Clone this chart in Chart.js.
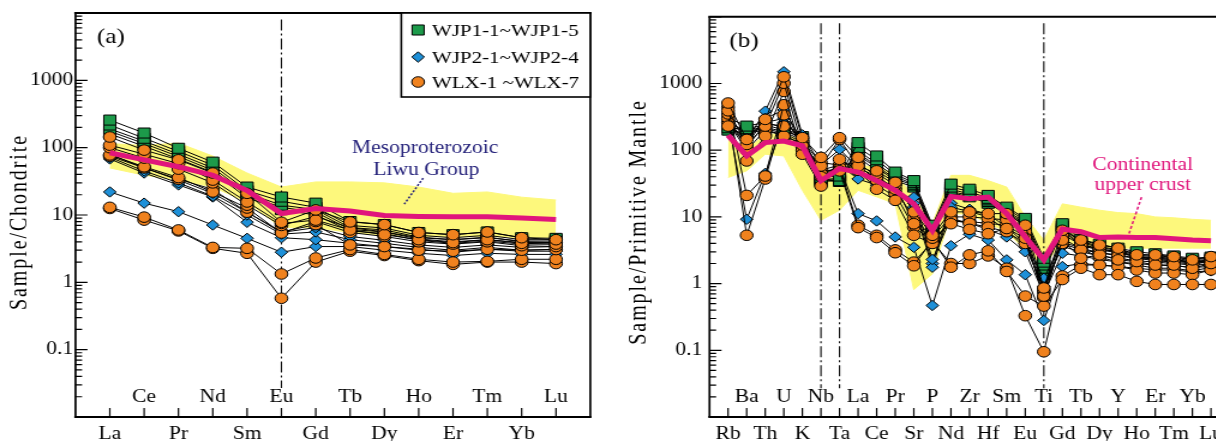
<!DOCTYPE html>
<html lang="en">
<head>
<meta charset="UTF-8">
<title>REE and trace element patterns</title>
<script src="https://cdn.jsdelivr.net/npm/chart.js"></script>
<style>
    html, body {
        margin: 0;
        padding: 0;
        background: #fff;
        width: 1216px;
        height: 441px;
        overflow: hidden;
    }
    .panel {
        position: absolute;
        top: 0;
        height: 441px;
        transform: scaleX(1.2);
        transform-origin: 0 0;
    }
    #panelA { left: 0; width: 500px; }
    #panelB { left: 600px; width: 540px; }
</style>
</head>
<body>
<div class="panel" id="panelA"><canvas id="reeChart" width="500" height="441"></canvas></div>
<div class="panel" id="panelB"><canvas id="spiderChart" width="540" height="441"></canvas></div>

<script>
// ---- element order on the x axes ----
const reeNames = ['La', 'Ce', 'Pr', 'Nd', 'Sm', 'Eu', 'Gd', 'Tb', 'Dy', 'Ho', 'Er', 'Tm', 'Yb', 'Lu'];
const pmNames = ['Rb', 'Ba', 'Th', 'U', 'K', 'Nb', 'Ta', 'La', 'Ce', 'Pr', 'Sr', 'P', 'Nd', 'Zr', 'Hf',
                 'Sm', 'Eu', 'Ti', 'Gd', 'Tb', 'Dy', 'Y', 'Ho', 'Er', 'Tm', 'Yb', 'Lu'];
const reeDividers = ['Eu'];
const pmDividers = ['Nb', 'Ta', 'Ti'];
const yTickValues = [0.1, 1, 10, 100, 1000];
const legendLabels = ['WJP1-1~WJP1-5', 'WJP2-1~WJP2-4', 'WLX-1 ~WLX-7'];

// ---- chondrite-normalised REE ----
const wjp1Ree = [
    [257, 165, 98, 61, 26, 18.5, 15, 8.0, 7.2, 5.5, 5.1, 5.6, 4.6, 4.5],
    [217, 138, 88, 55, 23, 16, 13, 7.0, 6.4, 5.0, 4.6, 5.0, 4.3, 4.3],
    [190, 125, 80, 50, 21, 14, 12, 6.5, 6.0, 4.7, 4.3, 4.6, 4.1, 4.1],
    [175, 115, 74, 46, 19.5, 13, 11, 6.1, 5.6, 4.4, 4.0, 4.3, 3.9, 3.9],
    [160, 105, 68, 43, 18, 12, 10, 5.8, 5.3, 4.2, 3.8, 4.1, 3.7, 3.7]
];
const wjp2Ree = [
    [80, 50, 33, 21, 11, 5.5, 6.5, 4.8, 4.2, 3.6, 3.3, 3.6, 3.3, 3.4],
    [72, 45, 30, 19, 10, 5.2, 5.6, 4.3, 3.8, 3.3, 3.0, 3.3, 3.0, 3.1],
    [68, 42, 28, 18.5, 7.8, 4.6, 4.3, 3.8, 3.4, 3.1, 2.8, 3.1, 2.9, 2.9],
    [22, 15, 11.2, 7.1, 4.5, 2.8, 3.4, 3.4, 3.0, 2.7, 2.5, 2.7, 2.6, 2.6]
];
const wlxRee = [
    [144, 92, 66, 42, 21, 7.8, 11.9, 7.9, 7.2, 5.5, 5.1, 5.6, 4.6, 4.3],
    [109, 80, 58, 33, 15.6, 7.5, 8.4, 6.0, 5.1, 4.3, 3.9, 4.3, 3.8, 3.7],
    [100, 70, 48, 30, 14, 7.0, 9.5, 6.5, 5.6, 4.6, 4.3, 4.7, 4.0, 3.9],
    [78, 52, 36, 22, 12.7, 5.4, 8.0, 5.5, 4.8, 4.0, 3.7, 4.0, 3.5, 3.4],
    [75, 50, 34, 24, 11, 5.6, 7.2, 3.6, 3.4, 3.0, 2.9, 3.1, 3.0, 3.07],
    [13, 9.3, 6.0, 3.3, 3.2, 1.33, 2.3, 3.07, 2.6, 2.2, 2.0, 2.05, 2.2, 2.2],
    [12.5, 8.4, 5.8, 3.2, 2.7, 0.58, 2.0, 2.9, 2.5, 2.1, 1.85, 2.0, 2.0, 1.9]
];
const liwuUpper = [115, 108, 117, 75, 42, 26, 31, 31, 30, 26, 21, 22, 18.4, 16.7];
const liwuLower = [50, 39, 33, 26, 15.6, 6.5, 6.5, 5.5, 5.0, 4.8, 4.7, 4.8, 4.6, 4.6];
const liwuMean = [84, 66, 52, 39, 23, 10.5, 12.5, 11.5, 9.8, 9.5, 9.4, 9.4, 9.0, 8.6];

// ---- primitive-mantle-normalised trace elements ----
const wjp1Pm = [
    [305, 230, 260, 217, 160, 39, 41, 130, 82, 47, 35, 7.5, 31, 26, 21, 14, 9.5, 2.4, 7.9, 4.6, 3.9, 3.4, 3.0, 2.8, 2.6, 2.4, 2.5],
    [217, 210, 240, 200, 150, 37, 35, 110, 72, 43, 33, 7.0, 28, 24, 19, 13, 9.0, 2.1, 7.3, 4.3, 3.6, 3.2, 2.8, 2.6, 2.5, 2.3, 2.4],
    [250, 200, 220, 190, 140, 36, 38, 98, 63, 40, 31, 6.5, 26, 22, 18, 12, 8.5, 1.9, 6.9, 4.1, 3.5, 3.1, 2.7, 2.5, 2.4, 2.2, 2.3],
    [230, 190, 210, 180, 130, 35, 34, 90, 58, 37, 30, 6.2, 24, 21, 17, 11.5, 8.0, 1.7, 6.5, 3.9, 3.3, 3.0, 2.6, 2.4, 2.3, 2.1, 2.2],
    [200, 180, 200, 170, 120, 34, 36, 84, 55, 35, 28, 5.8, 23, 20, 16, 11, 7.5, 1.52, 6.2, 3.7, 3.2, 2.9, 2.5, 2.3, 2.2, 2.0, 2.1]
];
const wjp2Pm = [
    [280, 9.2, 45, 260, 150, 45, 55, 11.2, 8.7, 5.0, 3.5, 0.47, 3.7, 5.5, 4.5, 2.27, 1.36, 0.28, 1.8, 2.0, 1.9, 1.8, 1.7, 1.6, 1.6, 1.5, 1.55],
    [250, 120, 300, 400, 140, 50, 60, 37, 30, 20, 19.7, 2.3, 9.5, 8, 6.5, 5.0, 3.0, 0.7, 2.85, 2.6, 2.3, 2.1, 2.0, 1.9, 1.85, 1.75, 1.8],
    [230, 150, 260, 300, 130, 45, 50, 45, 35, 24, 14, 1.76, 14, 12, 10, 6.2, 3.5, 0.9, 3.6, 3.0, 2.6, 2.4, 2.2, 2.1, 2.0, 1.9, 1.95],
    [260, 140, 385, 1500, 170, 60, 103, 55, 40, 27, 16, 2.0, 16, 13, 11, 7.0, 4.0, 1.2, 4.2, 3.4, 2.9, 2.7, 2.4, 2.3, 2.2, 2.1, 2.2]
];
const wlxPm = [
    [510, 145, 290, 1260, 154, 78, 154, 78, 49, 33, 11.9, 5.3, 11.9, 11.9, 11.2, 11.2, 7.5, 0.86, 6.3, 4.5, 3.8, 3.4, 2.7, 2.7, 2.54, 2.27, 2.54],
    [390, 122, 230, 1010, 120, 58, 145, 58, 45, 30, 7.9, 4.8, 7.9, 6.5, 5.6, 6.7, 4.8, 0.65, 4.5, 2.4, 2.7, 2.27, 2.14, 1.9, 1.9, 1.7, 2.0],
    [230, 69, 163, 760, 87, 29, 73, 50, 26, 17.7, 5.3, 4.0, 9.0, 8.0, 7.0, 6.0, 4.0, 0.81, 4.0, 3.2, 2.9, 2.6, 2.4, 2.2, 2.1, 1.95, 2.2],
    [440, 21, 41, 480, 100, 40, 49, 6.9, 4.9, 2.9, 1.85, 4.5, 1.76, 2.7, 3.1, 1.52, 0.65, 0.46, 1.15, 1.7, 1.36, 1.36, 1.08, 0.97, 0.97, 0.97, 0.97],
    [350, 5.3, 37, 340, 110, 45, 55, 7.5, 5.3, 3.2, 2.1, 4.2, 2.0, 2.0, 2.6, 1.7, 0.33, 0.095, 1.3, 1.9, 1.9, 1.8, 1.6, 1.44, 1.44, 1.36, 1.6],
    [300, 110, 250, 230, 135, 65, 60, 65, 40, 26, 9.5, 5.0, 10, 10, 9.5, 9.0, 6.0, 0.75, 5.5, 3.8, 3.3, 3.0, 2.5, 2.4, 2.3, 2.1, 2.3],
    [260, 100, 200, 163, 125, 50, 50, 60, 35, 22, 7.0, 4.4, 8.5, 8.5, 8.0, 7.5, 5.0, 0.61, 4.8, 3.3, 2.5, 2.1, 1.9, 1.7, 1.7, 1.55, 1.75]
];
const uccUpper = [175, 100, 175, 175, 140, 40, 60, 60, 55, 45, 20, 8, 42, 42, 35, 28, 10, 4.5, 15.7, 14, 12.6, 11.6, 11.2, 10, 9.7, 9.2, 8.9];
const uccLower = [39, 49, 87, 82, 25, 8.9, 12.6, 25, 20, 15.7, 0.81, 1.4, 11.2, 11, 8, 6, 3.2, 1.8, 4.3, 3.6, 3.4, 3.4, 3.4, 3.4, 3.4, 3.4, 3.4];
const uccMean = [168, 82, 130, 137, 116, 35, 53, 47, 35, 25, 15.7, 6.3, 20.3, 18.7, 19.8, 11.2, 5.0, 2.27, 6.6, 6.0, 4.9, 5.0, 4.9, 4.9, 4.7, 4.5, 4.4];

// ---- styles ----
const SERIF = "'Liberation Serif', 'Times New Roman', serif";
const YELLOW = '#fdf87c';
const MAGENTA = '#e0157c';
const NAVY = '#24217a';
const looks = [
    { shape: 'rect', radius: 7.1, color: '#1c9a4a' },
    { shape: 'rectRot', radius: 5.2, color: '#1e90d8' },
    { shape: 'circle', radius: 5.3, color: '#f0821e' }
];

Chart.defaults.font.family = SERIF;
Chart.defaults.font.size = 18;
Chart.defaults.color = '#000';

function points(vals) {
    return vals.map((v, i) => ({ x: i, y: v }));
}

function sampleSets(rows, look, order) {
    return rows.map(vals => ({
        data: points(vals),
        borderColor: '#000',
        borderWidth: 1,
        pointStyle: look.shape,
        pointRadius: look.radius,
        pointBackgroundColor: look.color,
        pointBorderColor: '#000',
        pointBorderWidth: 1,
        order: order
    }));
}

// lower edge first, upper edge filled down to it
function rangeSets(lower, upper) {
    return [
        { data: points(lower), borderColor: YELLOW, borderWidth: 1, pointRadius: 0, fill: false, order: 10 },
        { data: points(upper), borderColor: YELLOW, borderWidth: 1, pointRadius: 0, fill: '-1',
          backgroundColor: YELLOW, order: 10 }
    ];
}

function dividerSets(names, marks) {
    return marks.map(m => {
        const i = names.indexOf(m);
        return {
            data: [{ x: i, y: 8000 }, { x: i, y: 0.027 }],
            borderColor: '#000', borderWidth: 1.1, borderDash: [11, 3, 2, 3],
            pointRadius: 0, order: 4
        };
    });
}

function drawMarker(ctx, look, cx, cy) {
    const r = look.radius;
    ctx.beginPath();
    if (look.shape === 'rect') {
        const s = r * Math.SQRT1_2;
        ctx.rect(cx - s, cy - s, 2 * s, 2 * s);
    } else if (look.shape === 'rectRot') {
        ctx.moveTo(cx, cy - r);
        ctx.lineTo(cx + r, cy);
        ctx.lineTo(cx, cy + r);
        ctx.lineTo(cx - r, cy);
        ctx.closePath();
    } else {
        ctx.arc(cx, cy, r, 0, Math.PI * 2);
    }
    ctx.fillStyle = look.color;
    ctx.fill();
    ctx.lineWidth = 1;
    ctx.strokeStyle = '#000';
    ctx.stroke();
}

// frame, inward ticks, inner element labels, rotated axis title, notes, legend
const decor = {
    id: 'decor',
    afterDatasetsDraw(chart, args, o) {
        const { ctx, chartArea: a, scales: { x, y } } = chart;
        ctx.save();
        ctx.strokeStyle = '#000';

        ctx.lineWidth = 1.2;
        ctx.beginPath();
        for (let e = -2; e <= 4; e++) {
            for (let m = 1; m <= 9; m++) {
                const v = m * Math.pow(10, e);
                if (v < y.min || v > y.max) continue;
                const py = y.getPixelForValue(v);
                ctx.moveTo(a.left, py);
                ctx.lineTo(a.left + (m === 1 ? 10 : 5.5), py);
            }
        }
        o.names.forEach((n, i) => {
            const px = x.getPixelForValue(i);
            ctx.moveTo(px, a.bottom);
            ctx.lineTo(px, a.bottom - 9);
        });
        ctx.stroke();

        ctx.lineWidth = 2;
        ctx.beginPath();
        ctx.moveTo(a.left - 1, a.top);
        ctx.lineTo(a.right + 1, a.top);
        ctx.moveTo(a.left - 1, a.bottom);
        ctx.lineTo(a.right + 1, a.bottom);
        ctx.stroke();
        ctx.lineWidth = 1.7;
        ctx.beginPath();
        ctx.moveTo(a.left, a.top);
        ctx.lineTo(a.left, a.bottom);
        ctx.moveTo(a.right, a.top);
        ctx.lineTo(a.right, a.bottom);
        ctx.stroke();

        ctx.fillStyle = '#000';
        ctx.font = '18px ' + SERIF;
        ctx.textAlign = 'center';
        ctx.textBaseline = 'middle';
        o.names.forEach((n, i) => {
            if (i % 2 === 1) ctx.fillText(n, x.getPixelForValue(i), a.bottom - 20);
        });

        ctx.save();
        ctx.translate(o.titleX, 222);
        ctx.rotate(-Math.PI / 2);
        ctx.font = '20px ' + SERIF;
        ctx.letterSpacing = '1.9px';
        ctx.textBaseline = 'alphabetic';
        ctx.fillText(o.title, 0, 0);
        ctx.letterSpacing = '0px';
        ctx.restore();

        ctx.textBaseline = 'alphabetic';
        o.notes.forEach(t => {
            ctx.font = t.size + 'px ' + SERIF;
            ctx.fillStyle = t.color;
            ctx.fillText(t.text, x.getPixelForValue(t.x), y.getPixelForValue(t.y));
        });
        o.leaders.forEach(l => {
            ctx.strokeStyle = l.color;
            ctx.lineWidth = 1.5;
            ctx.setLineDash(l.dash);
            ctx.beginPath();
            ctx.moveTo(x.getPixelForValue(l.x1), y.getPixelForValue(l.y1));
            ctx.lineTo(x.getPixelForValue(l.x2), y.getPixelForValue(l.y2));
            ctx.stroke();
        });
        ctx.setLineDash([]);

        if (o.legend) {
            const w = 157.5, h = 84;
            const bx = a.right - w, by = a.top;
            ctx.fillStyle = '#fff';
            ctx.fillRect(bx, by, w, h);
            ctx.strokeStyle = '#000';
            ctx.lineWidth = 1.6;
            ctx.strokeRect(bx, by, w, h);
            ctx.textAlign = 'left';
            ctx.textBaseline = 'middle';
            ctx.font = '17.5px ' + SERIF;
            [17, 44, 69].forEach((dy, k) => {
                drawMarker(ctx, looks[k], bx + 14, by + dy);
                ctx.fillStyle = '#000';
                ctx.fillText(legendLabels[k], bx + 25.5, by + dy + 1);
            });
        }
        ctx.restore();
    }
};

function makeChart(id, names, datasets, geo, decorOpts) {
    return new Chart(document.getElementById(id), {
        type: 'line',
        data: { datasets: datasets },
        options: {
            responsive: false,
            animation: false,
            events: [],
            layout: { padding: { top: 13, right: geo.right, left: 0, bottom: 0 } },
            elements: { line: { tension: 0 } },
            scales: {
                x: {
                    type: 'linear',
                    min: -1,
                    max: names.length,
                    afterBuildTicks: s => { s.ticks = names.map((n, i) => ({ value: i })); },
                    ticks: {
                        autoSkip: false,
                        maxRotation: 0,
                        padding: 6,
                        callback: v => (v % 2 === 0 ? names[v] : '')
                    },
                    grid: { display: false, drawTicks: false },
                    border: { display: false },
                    afterFit: s => { s.height = 24; }
                },
                y: {
                    type: 'logarithmic',
                    min: 0.01,
                    max: 10000,
                    afterBuildTicks: s => { s.ticks = yTickValues.map(v => ({ value: v })); },
                    ticks: { autoSkip: false, padding: geo.tickPad, callback: v => String(v) },
                    grid: { display: false, drawTicks: false },
                    border: { display: false },
                    afterFit: s => { s.width = geo.left; }
                }
            },
            plugins: {
                legend: { display: false },
                tooltip: { enabled: false },
                decor: decorOpts
            }
        },
        plugins: [decor]
    });
}

makeChart('reeChart', reeNames, [
    ...rangeSets(liwuLower, liwuUpper),
    ...dividerSets(reeNames, reeDividers),
    ...sampleSets(wjp1Ree, looks[0], 3),
    ...sampleSets(wjp2Ree, looks[1], 2),
    ...sampleSets(wlxRee, looks[2], 1),
    { data: points(liwuMean), borderColor: MAGENTA, borderWidth: 5, pointRadius: 0, order: 0 }
], { left: 62.9, right: 5.8, tickPad: 2 }, {
    names: reeNames,
    title: 'Sample/Chondrite',
    titleX: 22.2,
    legend: true,
    notes: [
        { text: '(a)', x: 0.03, y: 3550, size: 21, color: '#000' },
        { text: 'Mesoproterozoic', x: 9.19, y: 83, size: 18, color: NAVY },
        { text: 'Liwu Group', x: 9.22, y: 39, size: 18, color: NAVY }
    ],
    leaders: [
        { x1: 9.13, y1: 35.4, x2: 8.58, y2: 14.5, color: NAVY, dash: [2, 1.6] }
    ]
});

makeChart('spiderChart', pmNames, [
    ...rangeSets(uccLower, uccUpper),
    ...dividerSets(pmNames, pmDividers),
    ...sampleSets(wjp1Pm, looks[0], 3),
    ...sampleSets(wjp2Pm, looks[1], 2),
    ...sampleSets(wlxPm, looks[2], 1),
    { data: points(uccMean), borderColor: MAGENTA, borderWidth: 5, pointRadius: 0, order: 0 }
], { left: 91.25, right: 15.4, tickPad: 6 }, {
    names: pmNames,
    title: 'Sample/Primitive Mantle',
    titleX: 37.5,
    legend: false,
    notes: [
        { text: '(b)', x: 0.857, y: 3550, size: 21, color: '#000' },
        { text: 'Continental', x: 22.33, y: 49.9, size: 18, color: MAGENTA },
        { text: 'upper crust', x: 22.33, y: 25.2, size: 18, color: MAGENTA }
    ],
    leaders: [
        { x1: 22.26, y1: 19.8, x2: 21.59, y2: 5.64, color: MAGENTA, dash: [3, 2] }
    ]
});
</script>
</body>
</html>
